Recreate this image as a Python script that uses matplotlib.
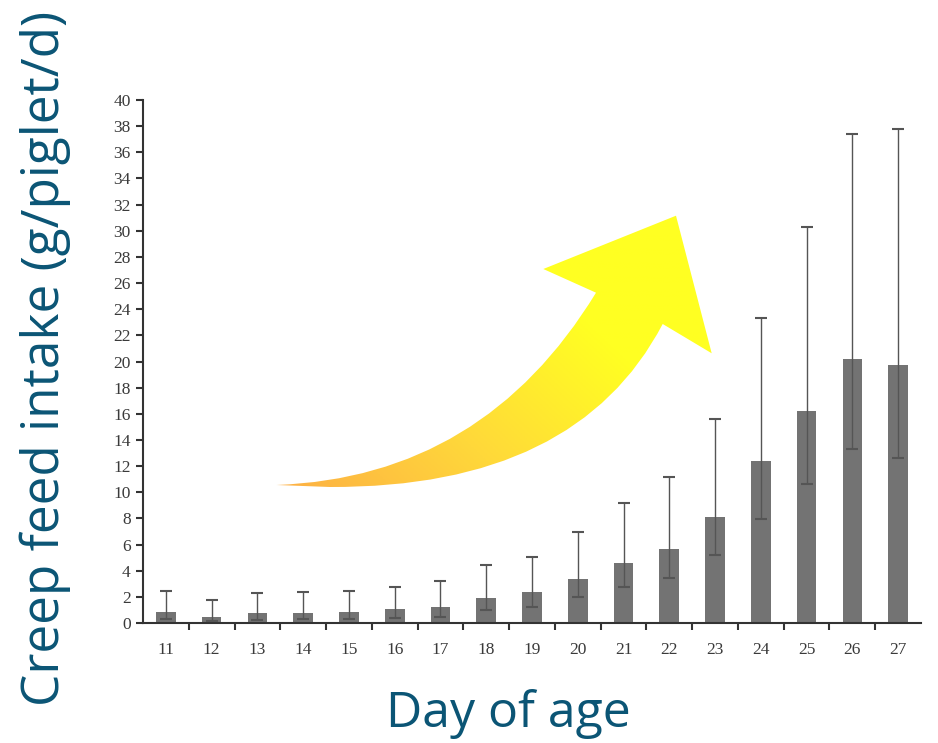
import numpy as np
import matplotlib.pyplot as plt
from matplotlib.path import Path
from matplotlib.patches import PathPatch
from matplotlib.colors import LinearSegmentedColormap

days = [11, 12, 13, 14, 15, 16, 17, 18, 19, 20, 21, 22, 23, 24, 25, 26, 27]
intake = [0.86, 0.46, 0.74, 0.79, 0.86, 1.05, 1.25, 1.94, 2.35, 3.36, 4.56, 5.66,
          8.10, 12.42, 16.24, 20.19, 19.71]
upper = [2.45, 1.76, 2.27, 2.35, 2.45, 2.78, 3.19, 4.43, 5.07, 6.98, 9.20, 11.19,
         15.59, 23.33, 30.27, 37.42, 37.76]
lower = [0.30, 0.15, 0.25, 0.28, 0.30, 0.40, 0.48, 0.99, 1.25, 1.96, 2.78, 3.42,
         5.17, 7.99, 10.64, 13.27, 12.62]

W, H = 938, 743
fig = plt.figure(figsize=(W / 100, H / 100), dpi=100)
ax = fig.add_axes([143 / W, 1 - 623 / H, (921 - 143) / W, (623 - 100) / H])

x = np.arange(len(days))
intake = np.array(intake)
yerr = [intake - np.array(lower), np.array(upper) - intake]
ax.bar(x, intake, width=0.43, color='#737373', zorder=2)
ax.errorbar(x, intake, yerr=yerr, fmt='none', ecolor='#555555', elinewidth=1,
            capsize=4, capthick=1.5, zorder=3)

ax.set_xlim(-0.5, len(days) - 0.5)
ax.set_ylim(0, 40)
ax.set_yticks(range(0, 41, 2))
ax.set_xticks(x)
ax.set_xticklabels([str(d) for d in days])
ax.set_xticks(np.arange(0.5, len(days) - 0.5), minor=True)
ax.tick_params(axis='x', which='major', length=0, pad=14)
ax.tick_params(axis='x', which='minor', length=5, width=1.5, direction='out', color='#333333')
ax.tick_params(axis='y', length=5, width=1.5, direction='out', color='#333333', pad=4)
for lab in ax.get_xticklabels() + ax.get_yticklabels():
    lab.set_fontfamily('Liberation Serif')
    lab.set_fontsize(12.5)
    lab.set_color('#3a3a3a')
for s in ['top', 'right']:
    ax.spines[s].set_visible(False)
for s in ['left', 'bottom']:
    ax.spines[s].set_color('#333333')
    ax.spines[s].set_linewidth(1.5)

# curved gradient arrow, in figure pixels (origin top-left)
def fp(px, py):
    return (px / W, 1 - py / H)

verts = [fp(276.7, 485), fp(483.6, 477.2), fp(596, 292.7),
         fp(543.3, 269), fp(676, 215.7), fp(711.7, 353.3), fp(662.7, 324),
         fp(577, 488), fp(330, 487), fp(276.7, 485)]
codes = [Path.MOVETO, Path.CURVE3, Path.CURVE3,
         Path.LINETO, Path.LINETO, Path.LINETO, Path.LINETO,
         Path.CURVE3, Path.CURVE3, Path.CLOSEPOLY]
arrow = PathPatch(Path(verts, codes), facecolor='none', edgecolor='none',
                  transform=fig.transFigure)
fig.add_artist(arrow)

cmap = LinearSegmentedColormap.from_list('arrow', ['#FDAE45', '#FFD83A', '#FFFF22', '#FFFF22'])
gx, gy = np.meshgrid(np.linspace(0, 1, 300), np.linspace(0, 1, 300))
grad = (gx * 0.6 + gy * 0.4)
gax = fig.add_axes([270 / W, 1 - 490 / H, (715 - 270) / W, (490 - 210) / H])
gax.set_axis_off()
img = gax.imshow(grad, cmap=cmap, origin='lower', extent=[0, 1, 0, 1], aspect='auto')
img.set_clip_path(arrow)

fig.text(45 / W, 1 - 358 / H, 'Creep feed intake (g/piglet/d)', rotation=90,
         ha='center', va='center', fontsize=37, color='#0B5575', family='Open Sans')
fig.text(508 / W, 1 - 714 / H, 'Day of age', ha='center', va='center',
         fontsize=36, color='#0B5575', family='Open Sans')

fig.savefig('out.png', dpi=100)
